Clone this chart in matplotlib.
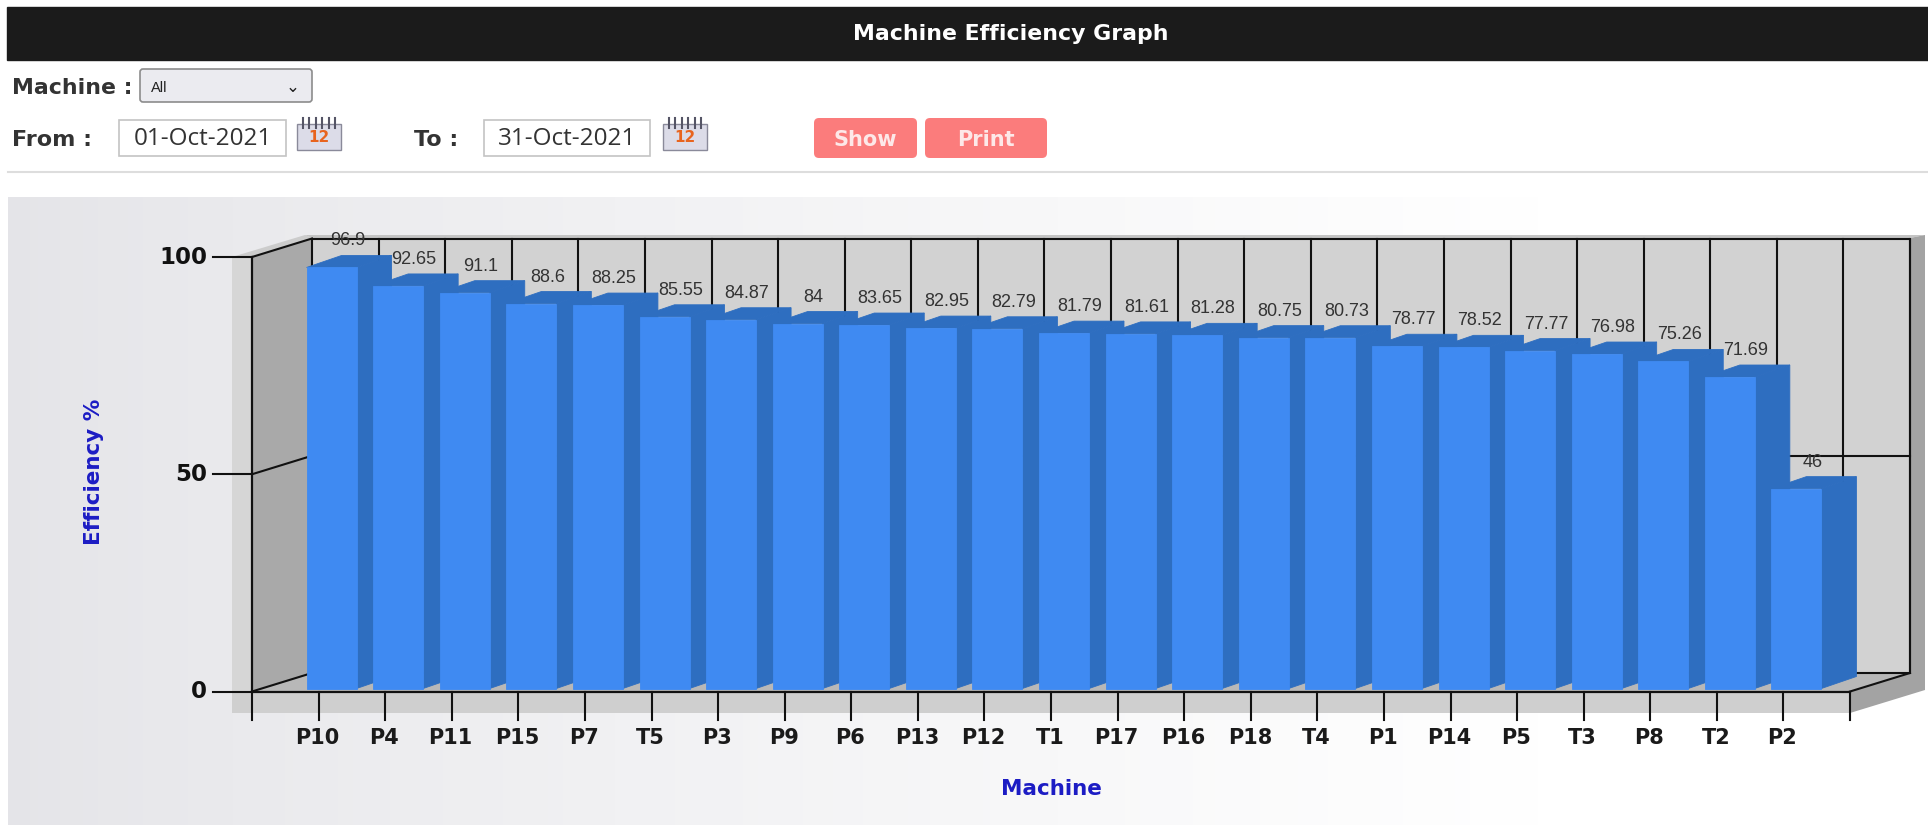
#!/usr/bin/env python
import numpy as np
import matplotlib
matplotlib.use("Agg")
import matplotlib.pyplot as plt
from matplotlib.patches import Rectangle, FancyBboxPatch, Polygon
from matplotlib.transforms import Affine2D

machines = ["P10", "P4", "P11", "P15", "P7", "T5", "P3", "P9", "P6", "P13", "P12", "T1",
            "P17", "P16", "P18", "T4", "P1", "P14", "P5", "T3", "P8", "T2", "P2"]
efficiency = [96.9, 92.65, 91.1, 88.6, 88.25, 85.55, 84.87, 84, 83.65, 82.95, 82.79, 81.79,
              81.61, 81.28, 80.75, 80.73, 78.77, 78.52, 77.77, 76.98, 75.26, 71.69, 46]
y_ticks = [0, 50, 100]

W, H = 1928, 831
FRONT = "#3f8af2"
SIDE = "#2e6ec0"
BLACK = "#111111"
BLUE = "#1c1cc4"

fig = plt.figure(figsize=(W / 100, H / 100), dpi=100, facecolor="white")

# page furniture, in pixel coordinates
bg = fig.add_axes([0, 0, 1, 1])
bg.set_xlim(0, W)
bg.set_ylim(H, 0)
bg.axis("off")

grad = np.clip(np.linspace(0, 1.25, 256), 0, 1).reshape(1, -1) ** 0.8
grad = np.dstack([0.895 + 0.105 * grad, 0.895 + 0.105 * grad, 0.91 + 0.09 * grad])
bg.imshow(grad, extent=[8, W, 825, 197], aspect="auto", zorder=0)
bg.set_xlim(0, W)
bg.set_ylim(H, 0)

bg.add_patch(Rectangle((7, 7), W, 53, color="#1b1b1b", zorder=1))
bg.text(1011, 34, "Machine Efficiency Graph", color="white", fontsize=15.8, fontweight="bold",
        ha="center", va="center", zorder=2)
bg.plot([8, W], [172, 172], color="#dddddd", lw=1.5, zorder=1)

bg.text(12, 88, "Machine :", color="#333333", fontsize=15.8, fontweight="bold", va="center")
bg.add_patch(FancyBboxPatch((143, 72), 166, 27, boxstyle="round,pad=3", fc="#ebebf0", ec="#8c8c8c", lw=1.2))
bg.text(151, 88, "All", fontsize=10.5, family="Liberation Sans", color="#222222", va="center")
bg.text(293, 87, "\u2304", fontsize=12, color="#222222", ha="center", va="center")


def date_box(x0, x1, text):
    bg.add_patch(Rectangle((x0, 120), x1 - x0, 36, fc="white", ec="#c4c4c4", lw=1.2))
    bg.text((x0 + x1) / 2, 139, text, fontsize=17.5, color="#333333", ha="center", va="center",
            family="Open Sans")


def calendar(x0):
    bg.add_patch(Rectangle((x0, 124), 44, 26, fc="#dcdce8", ec="#8a8a9a", lw=1))
    for k in range(6):
        bg.plot([x0 + 6 + k * 6.4] * 2, [118, 128], color="#555566", lw=1.5)
    bg.text(x0 + 22, 138, "12", color="#e8641e", fontsize=11, fontweight="bold", ha="center", va="center")


bg.text(12, 140, "From :", color="#333333", fontsize=16, fontweight="bold", va="center")
date_box(119, 286, "01-Oct-2021")
calendar(297)
bg.text(414, 140, "To :", color="#333333", fontsize=16, fontweight="bold", va="center")
date_box(484, 650, "31-Oct-2021")
calendar(663)

for x0, x1, name in [(814, 917, "Show"), (925, 1047, "Print")]:
    bg.add_patch(FancyBboxPatch((x0 + 5, 123), x1 - x0 - 10, 30, boxstyle="round,pad=5",
                                fc="#fb7c7c", ec="none"))
    bg.text((x0 + x1) / 2, 140, name, color="#fde8e8", fontsize=15, fontweight="bold",
            ha="center", va="center")

# chart shell
shell = [
    ([(232, 257), (252, 257), (252, 713), (232, 713)], "#d6d6d6"),
    ([(232, 691), (1850, 691), (1850, 713), (232, 713)], "#cfcfcf"),
    ([(232, 257), (305, 235), (312, 238), (252, 257)], "#cccccc"),
    ([(305, 235), (1925, 235), (1910, 238), (312, 238)], "#c4c4c4"),
    ([(312, 238), (1910, 238), (1910, 673), (312, 673)], "#d2d2d2"),
    ([(252, 257), (312, 238), (312, 673), (252, 691)], "#a9a9a9"),
    ([(252, 691), (312, 673), (1910, 673), (1850, 691)], "#b8b8b8"),
    ([(1910, 238), (1925, 235), (1925, 690), (1850, 713), (1850, 691), (1910, 673)], "#a3a3a3"),
]
for pts, col in shell:
    bg.add_patch(Polygon(pts, closed=True, fc=col, ec="none", zorder=1))

# chart, front plane of the 3d box
ax = fig.add_axes([252 / W, (H - 691.5) / H, (1850 - 252) / W, (691.5 - 257) / H])
ax.patch.set_alpha(0)
ax.set_xlim(0, 24)
ax.set_ylim(0, 100)
for s in ax.spines.values():
    s.set_visible(False)
ax.set_xticks([])
ax.set_yticks([])

px_x = 24 / (1850 - 252)
px_y = 100 / (691.5 - 257)
back = ax.transData + Affine2D().translate(60, 18.5)

# back wall grid and box edges
for t in range(1, 25):
    ax.plot([t, t], [0, 100], color=BLACK, lw=1.5, transform=back, clip_on=False, zorder=2)
ax.plot([0, 24, 24, 0, 0], [100, 100, 0, 0, 100], color=BLACK, lw=1.5, transform=back, clip_on=False, zorder=2)
ax.plot([0, 24], [50, 50], color=BLACK, lw=1.5, transform=back, clip_on=False, zorder=2)
for t in y_ticks:
    ax.plot([0, 60 * px_x], [t, t + 18.5 * px_y], color=BLACK, lw=1.5, clip_on=False, zorder=2)
ax.plot([24, 24 + 60 * px_x], [0, 18.5 * px_y], color=BLACK, lw=1.5, clip_on=False, zorder=2)

# bars, left to right so each hides the side of the one before
x = np.arange(1, len(machines) + 1)
lift = 3 * px_y
bar_w = 50 * px_x
dx = 35 * px_x
dy = 12 * px_y
for i, (xi, v) in enumerate(zip(x, efficiency)):
    l = xi - 12 * px_x
    r = l + bar_w
    b = lift
    t = v + lift
    z = 3 + i * 0.01
    ax.add_patch(Polygon([(r, b), (r + dx, b + dy), (r + dx, t + dy), (r, t)], fc=SIDE, ec=SIDE, lw=0.6, clip_on=False, zorder=z))
    ax.add_patch(Polygon([(l, t), (r, t), (r + dx, t + dy), (l + dx, t + dy)], fc=SIDE, ec=SIDE, lw=0.6, clip_on=False, zorder=z))
    ax.bar(l, v, bottom=b, width=bar_w, align="edge", color=FRONT, ec=FRONT, lw=0.6, clip_on=False, zorder=z)

for xi, v in zip(x, efficiency):
    ax.text(xi + 29 * px_x, v + 29.5 * px_y, f"{v:g}", family="Liberation Sans", fontsize=13, color="#333333",
            ha="center", va="center", clip_on=False, zorder=6)

# front axes lines
ax.plot([0, 24], [0, 0], color=BLACK, lw=1.6, clip_on=False, zorder=5)
ax.plot([0, 0], [0, 100], color=BLACK, lw=1.6, clip_on=False, zorder=5)
for t in range(0, 25):
    ax.plot([t, t], [0, -28 * px_y], color=BLACK, lw=1.5, clip_on=False, zorder=5)
for t in y_ticks:
    ax.plot([-39 * px_x, 0], [t, t], color=BLACK, lw=1.5, clip_on=False, zorder=5)
    ax.text(-45 * px_x, t, str(t), fontsize=16.5, fontweight="bold", color=BLACK, ha="right", va="center", clip_on=False)

for xi, name in zip(x, machines):
    ax.text(xi - 1 * px_x, -46 * px_y, name, fontsize=15, fontweight="bold", color="#1a1a1a", ha="center", va="center", clip_on=False)

bg.text(1051, 789, "Machine", color=BLUE, fontsize=15.5, fontweight="bold", ha="center", va="center")
bg.text(94, 472, "Efficiency %", color=BLUE, fontsize=15.5, fontweight="bold", rotation=90, ha="center", va="center")

fig.savefig("out.png", dpi=100)
